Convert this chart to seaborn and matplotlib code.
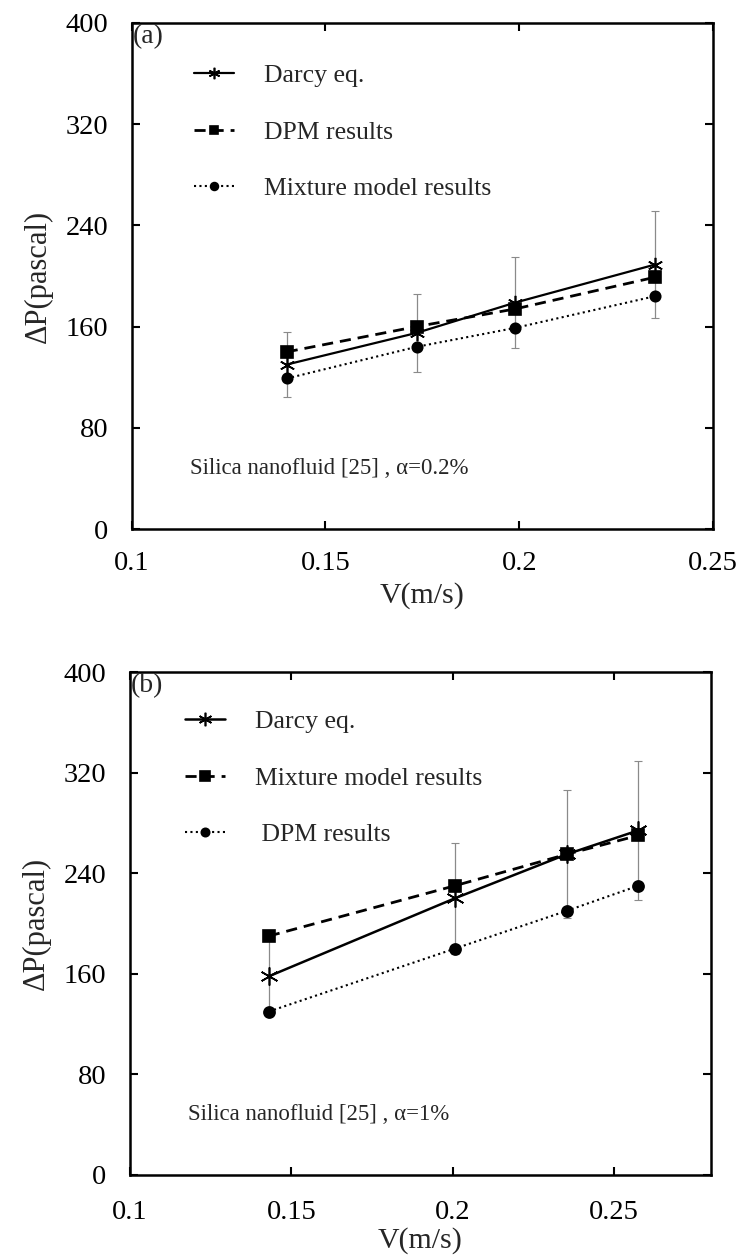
import numpy as np
import pandas as pd
import matplotlib
matplotlib.use("Agg")
import matplotlib.pyplot as plt
import seaborn as sns

# ---------------- data ----------------
# Panel (a): Silica nanofluid, alpha = 0.2 %
va = [0.14, 0.1735, 0.199, 0.235]
darcy_a = [130, 155, 179, 209]
dpm_a = [140, 160, 174, 199]
mix_a = [119, 144, 159, 184]
err_a = [26, 31, 36, 42]

# Panel (b): Silica nanofluid, alpha = 1 %
vb = [0.143, 0.2006, 0.2352, 0.2574]
darcy_b = [158, 220, 255, 274]
mix_b = [190, 230, 255, 270]
dpm_b = [130, 180, 210, 230]
err_b = [31, 44, 51, 55]

yticks = [0, 80, 160, 240, 320, 400]
xticks_a = [0.1, 0.15, 0.2, 0.25]
xticks_b = [0.1, 0.15, 0.2, 0.25]
xticklabels = ["0.1", "0.15", "0.2", "0.25"]

sns.set_theme(style="white")
plt.rcParams["font.family"] = ["Liberation Serif", "DejaVu Serif"]
plt.rcParams["mathtext.fontset"] = "stix"

fig = plt.figure(figsize=(7.4, 12.58), dpi=100)
ax_a = fig.add_axes([0.178, 1 - 529 / 1258, 0.7855, 506 / 1258])
ax_b = fig.add_axes([0.1757, 1 - 1175 / 1258, 0.7853, 503 / 1258])

asterisk = (6, 2, 0)

def style_axes(ax, xlim, xticks, xpad, xlabelpad):
    ax.set_xlim(*xlim)
    ax.set_ylim(0, 400)
    ax.set_yticks(yticks)
    ax.set_yticklabels([str(t) for t in yticks])
    ax.set_xticks(xticks)
    ax.set_xticklabels(xticklabels)
    for s in ax.spines.values():
        s.set_visible(True)
        s.set_color("black")
        s.set_linewidth(1.8)
    ax.tick_params(direction="in", length=6, width=1.5, top=True, right=True,
                   bottom=True, left=True, labelsize=20.5, colors="black")
    ax.tick_params(axis="y", pad=17)
    ax.tick_params(axis="x", pad=xpad)
    ax.set_xlabel("V(m/s)", fontsize=21.5, labelpad=xlabelpad)
    ax.set_ylabel("ΔP(pascal)", fontsize=22, labelpad=9)
    ax.grid(False)


def draw(ax, x, series, err, xlim, xticks, panel, note, anchor, xpad, xlabelpad):
    ax.errorbar(x, series[0][1], yerr=err, fmt="none", ecolor="#8a8a8a",
                elinewidth=0.9, capsize=3, capthick=0.8, zorder=1)
    for label, y, ls, mk, ms, lw in series:
        sns.lineplot(x=x, y=y, ax=ax, color="black", linestyle=ls, marker=mk,
                     markersize=ms, linewidth=lw, markeredgecolor="black",
                     markeredgewidth=1.2, label=label, zorder=3)
    style_axes(ax, xlim, xticks, xpad, xlabelpad)
    ax.text(0.002, 0.997, panel, transform=ax.transAxes, fontsize=20,
            va="top", ha="left")
    ax.text(0.1 + (xlim[1] - 0.1) * 0.1, 48, note, fontsize=16.5, va="center",
            ha="left")
    ax.legend(loc="upper left", bbox_to_anchor=anchor, frameon=False,
              fontsize=18.5, labelspacing=1.3, handlelength=1.55,
              handletextpad=1.15, markerscale=0.75, borderpad=0,
              borderaxespad=0)


series_a = [
    ("Darcy eq.", darcy_a, "-", asterisk, 11, 1.6),
    ("DPM results", dpm_a, (0, (4, 2.5)), "s", 8, 2.0),
    ("Mixture model results", mix_a, (0, (1, 1.6)), "o", 7.5, 1.5),
]
series_b = [
    ("Darcy eq.", darcy_b, "-", asterisk, 13, 1.8),
    ("Mixture model results", mix_b, (0, (4, 2.5)), "s", 9, 2.0),
    (" DPM results", dpm_b, (0, (1, 1.6)), "o", 8, 1.5),
]

draw(ax_a, va, series_a, err_a, (0.1, 0.25), xticks_a, "(a)",
     "Silica nanofluid [25] , α=0.2%", (0.108, 0.918), 16, 4)
draw(ax_b, vb, series_b, err_b, (0.1, 0.28), xticks_b, "(b)",
     "Silica nanofluid [25] , α=1%", (0.095, 0.924), 18, 1.5)

fig.savefig("out.png", dpi=100, facecolor="white")
